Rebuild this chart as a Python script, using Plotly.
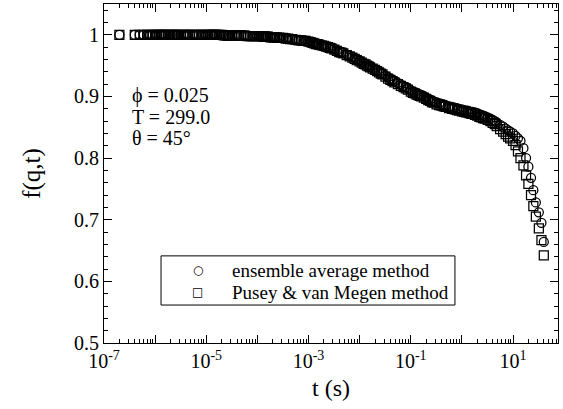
import plotly.graph_objects as go

# Lag times (s) of the intensity correlator
lag_times = [
    2e-7, 4e-7, 5e-7, 6e-7, 7e-7, 8e-7, 9e-7,
    1.0e-6, 1.1e-6, 1.2e-6, 1.3e-6, 1.4e-6, 1.5e-6, 1.6e-6, 1.8e-6, 2.0e-6, 2.2e-6, 2.4e-6, 2.6e-6,
    2.8e-6, 3.2e-6, 3.6e-6, 4.0e-6, 4.4e-6, 4.8e-6, 5.6e-6, 6.4e-6, 7.2e-6, 8.0e-6, 8.8e-6,
    1.0e-5, 1.1e-5, 1.2e-5, 1.3e-5, 1.4e-5, 1.5e-5, 1.6e-5, 1.8e-5, 2.0e-5, 2.2e-5, 2.4e-5, 2.6e-5,
    2.8e-5, 3.2e-5, 3.6e-5, 4.0e-5, 4.4e-5, 4.8e-5, 5.6e-5, 6.4e-5, 7.2e-5, 8.0e-5, 8.8e-5,
    1.0e-4, 1.1e-4, 1.2e-4, 1.3e-4, 1.4e-4, 1.5e-4, 1.6e-4, 1.8e-4, 2.0e-4, 2.2e-4, 2.4e-4, 2.6e-4,
    2.8e-4, 3.2e-4, 3.6e-4, 4.0e-4, 4.4e-4, 4.8e-4, 5.6e-4, 6.4e-4, 7.2e-4, 8.0e-4, 8.8e-4,
    1.0e-3, 1.1e-3, 1.2e-3, 1.3e-3, 1.4e-3, 1.5e-3, 1.6e-3, 1.8e-3, 2.0e-3, 2.2e-3, 2.4e-3, 2.6e-3,
    2.8e-3, 3.2e-3, 3.6e-3, 4.0e-3, 4.4e-3, 4.8e-3, 5.6e-3, 6.4e-3, 7.2e-3, 8.0e-3, 8.8e-3,
    1.0e-2, 1.1e-2, 1.2e-2, 1.3e-2, 1.4e-2, 1.5e-2, 1.6e-2, 1.8e-2, 2.0e-2, 2.2e-2, 2.4e-2, 2.6e-2,
    2.8e-2, 3.2e-2, 3.6e-2, 4.0e-2, 4.4e-2, 4.8e-2, 5.6e-2, 6.4e-2, 7.2e-2, 8.0e-2, 8.8e-2,
    0.10, 0.11, 0.12, 0.13, 0.14, 0.15, 0.16, 0.18, 0.20, 0.22, 0.24, 0.26,
    0.28, 0.32, 0.36, 0.40, 0.44, 0.48, 0.56, 0.64, 0.72, 0.80, 0.88,
    1.0, 1.1, 1.2, 1.3, 1.4, 1.5, 1.6, 1.8, 2.0, 2.2, 2.4, 2.6,
    2.8, 3.2, 3.6, 4.0, 4.4, 4.8, 5.6, 6.4, 7.2, 8.0, 8.8,
    10.0, 11.2, 12.5, 14.0, 16.0, 18.0, 20.0, 22.5, 25.0, 28.0, 32.0, 36.0, 40.0,
]

# f(q,t) from the ensemble average method
f_ensemble = [
    1.000, 1.000, 1.000, 1.000, 1.000, 1.000, 1.000,
    1.000, 1.000, 1.000, 1.000, 1.000, 1.000, 1.000, 1.000, 1.000, 1.000, 1.000, 1.000,
    1.000, 1.000, 1.000, 1.000, 1.000, 1.000, 1.000, 1.000, 1.000, 1.000, 1.000,
    1.000, 1.000, 1.000, 1.000, 1.000, 1.000, 1.000, 1.000, 1.000, 0.999, 0.999, 0.999,
    0.999, 0.999, 0.999, 0.999, 0.999, 0.999, 0.999, 0.998, 0.998, 0.998, 0.998,
    0.998, 0.998, 0.998, 0.997, 0.997, 0.997, 0.997, 0.996, 0.996, 0.996, 0.996, 0.995,
    0.995, 0.995, 0.994, 0.994, 0.993, 0.993, 0.992, 0.991, 0.991, 0.990, 0.990,
    0.989, 0.988, 0.987, 0.986, 0.985, 0.985, 0.984, 0.983, 0.982, 0.981, 0.980, 0.979,
    0.978, 0.977, 0.975, 0.973, 0.972, 0.971, 0.968, 0.966, 0.964, 0.962, 0.960,
    0.958, 0.956, 0.954, 0.953, 0.951, 0.950, 0.948, 0.946, 0.944, 0.942, 0.940, 0.938,
    0.937, 0.934, 0.931, 0.929, 0.927, 0.925, 0.922, 0.919, 0.917, 0.915, 0.913,
    0.910, 0.908, 0.907, 0.905, 0.904, 0.903, 0.902, 0.900, 0.898, 0.896, 0.895, 0.893,
    0.892, 0.890, 0.889, 0.888, 0.887, 0.886, 0.884, 0.883, 0.882, 0.881, 0.880,
    0.879, 0.878, 0.877, 0.877, 0.876, 0.875, 0.875, 0.874, 0.873, 0.871, 0.870, 0.869,
    0.868, 0.866, 0.864, 0.862, 0.860, 0.858, 0.854, 0.851, 0.848, 0.845, 0.843,
    0.840, 0.836, 0.832, 0.828, 0.816, 0.800, 0.786, 0.768, 0.748, 0.728, 0.712, 0.695, 0.664,
]

# f(q,t) from the Pusey & van Megen method
f_pusey = [
    1.000, 1.000, 1.000, 1.000, 1.000, 1.000, 1.000,
    1.000, 1.000, 1.000, 1.000, 1.000, 1.000, 1.000, 1.000, 1.000, 1.000, 1.000, 1.000,
    1.000, 1.000, 1.000, 1.000, 1.000, 1.000, 1.000, 1.000, 1.000, 1.000, 1.000,
    1.000, 1.000, 1.000, 1.000, 1.000, 1.000, 1.000, 1.000, 1.000, 0.999, 0.999, 0.999,
    0.999, 0.999, 0.999, 0.999, 0.999, 0.999, 0.999, 0.998, 0.998, 0.998, 0.998,
    0.998, 0.998, 0.998, 0.997, 0.997, 0.997, 0.997, 0.996, 0.996, 0.996, 0.996, 0.995,
    0.995, 0.995, 0.994, 0.994, 0.993, 0.993, 0.992, 0.991, 0.991, 0.990, 0.990,
    0.989, 0.988, 0.987, 0.986, 0.985, 0.985, 0.984, 0.983, 0.982, 0.981, 0.980, 0.979,
    0.978, 0.976, 0.974, 0.972, 0.971, 0.970, 0.967, 0.965, 0.963, 0.961, 0.959,
    0.957, 0.955, 0.953, 0.952, 0.950, 0.949, 0.947, 0.945, 0.943, 0.941, 0.939, 0.937,
    0.936, 0.932, 0.929, 0.927, 0.925, 0.923, 0.920, 0.917, 0.915, 0.913, 0.911,
    0.908, 0.906, 0.905, 0.903, 0.902, 0.901, 0.900, 0.898, 0.896, 0.894, 0.893, 0.891,
    0.890, 0.887, 0.886, 0.885, 0.884, 0.883, 0.881, 0.880, 0.879, 0.878, 0.877,
    0.876, 0.875, 0.874, 0.874, 0.873, 0.872, 0.872, 0.870, 0.869, 0.867, 0.866, 0.865,
    0.864, 0.862, 0.860, 0.857, 0.855, 0.852, 0.847, 0.843, 0.839, 0.835, 0.832,
    0.828, 0.821, 0.811, 0.800, 0.788, 0.772, 0.758, 0.740, 0.722, 0.705, 0.686, 0.667, 0.642,
]

assert len(lag_times) == len(f_ensemble) == len(f_pusey), (
    len(lag_times), len(f_ensemble), len(f_pusey))

# Sample parameters printed inside the frame
sample_info = ["\u03d5 = 0.025", "T = 299.0", "\u03b8 = 45\u00b0"]

# Series names, with the glyph used for each in the key box
series_names = ["ensemble average method", "Pusey & van Megen method"]
series_glyphs = ["\u25cb", "\u25a1"]

# Axis ticks: a major tick every decade, labels every second decade
x_major = [10.0 ** k for k in range(-7, 2)]
x_major_text = ["10<sup>%d</sup>" % k if (k + 7) % 2 == 0 else "" for k in range(-7, 2)]
x_minor = [m * 10.0 ** k for k in range(-7, 2) for m in range(2, 10)]
y_major = [0.5, 0.6, 0.7, 0.8, 0.9, 1.0]
y_major_text = ["0.5", "0.6", "0.7", "0.8", "0.9", "1"]

SERIF = "Liberation Serif"

fig = go.Figure()
for t_vals, f_vals, name, symbol in [
    (lag_times, f_ensemble, series_names[0], "circle-open"),
    (lag_times, f_pusey, series_names[1], "square-open"),
]:
    fig.add_trace(go.Scatter(
        x=t_vals, y=f_vals, mode="markers", name=name, showlegend=False,
        marker=dict(symbol=symbol, size=9, color="black",
                    line=dict(width=1.25, color="black")),
    ))

fig.update_xaxes(
    type="log", range=[-7, 1.88],
    tickmode="array", tickvals=x_major, ticktext=x_major_text,
    ticks="inside", ticklen=8, tickwidth=1, tickcolor="black",
    minor=dict(tickmode="array", tickvals=x_minor, ticks="inside", ticklen=4,
               tickwidth=1, tickcolor="black"),
    showline=True, linecolor="black", linewidth=1, mirror="ticks",
    showgrid=False, zeroline=False,
    tickfont=dict(family=SERIF, size=20, color="black"),
    title=dict(text="t (s)", font=dict(family=SERIF, size=24, color="black"), standoff=8),
)
fig.update_yaxes(
    range=[0.5, 1.05],
    tickmode="array", tickvals=y_major, ticktext=y_major_text,
    ticks="inside", ticklen=8, tickwidth=1, tickcolor="black",
    minor=dict(dtick=0.02, tick0=0.5, ticks="inside", ticklen=4, tickwidth=1,
               tickcolor="black"),
    showline=True, linecolor="black", linewidth=1, mirror="ticks",
    showgrid=False, zeroline=False,
    tickfont=dict(family=SERIF, size=20, color="black"),
    title=dict(text="f(q,t)", font=dict(family=SERIF, size=25, color="black"), standoff=26),
)

for i, line in enumerate(sample_info):
    fig.add_annotation(
        xref="paper", yref="paper", x=0.057, y=0.729 - i * 0.062,
        xanchor="left", yanchor="middle", showarrow=False,
        text=line, font=dict(family=SERIF, size=20, color="black"),
    )

# Key box
fig.add_shape(type="rect", xref="paper", yref="paper",
              x0=0.1256, x1=0.773, y0=0.112, y1=0.257,
              line=dict(color="black", width=1), fillcolor="white", layer="above")
for i, (name, glyph) in enumerate(zip(series_names, series_glyphs)):
    row_y = 0.215 - i * 0.065
    fig.add_annotation(
        xref="paper", yref="paper", x=0.207, y=row_y, xanchor="center", yanchor="middle",
        showarrow=False, text=glyph, font=dict(family="DejaVu Sans", size=12, color="black"),
    )
    fig.add_annotation(
        xref="paper", yref="paper", x=0.278, y=row_y, xanchor="left", yanchor="middle",
        showarrow=False, text=name, font=dict(family=SERIF, size=19, color="black"),
    )

fig.update_layout(
    width=563, height=409,
    margin=dict(l=104, r=5, t=4, b=66),
    paper_bgcolor="white", plot_bgcolor="white",
    showlegend=False,
)

fig.write_html("out.html")
